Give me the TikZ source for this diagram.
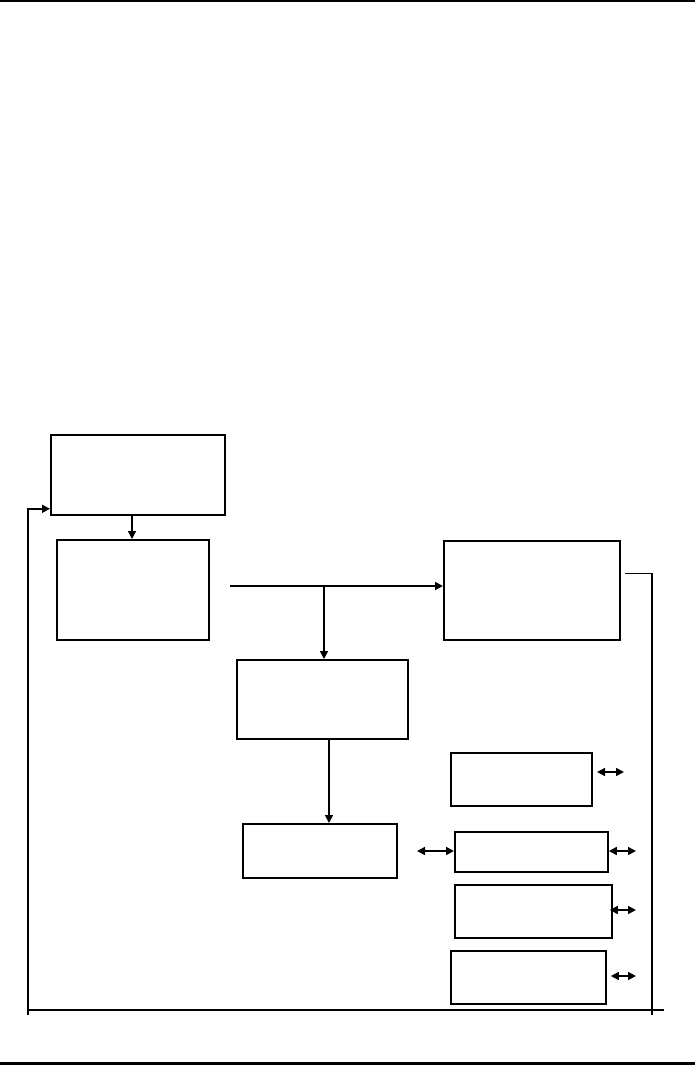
\documentclass[tikz,border=0pt]{standalone}
\usetikzlibrary{arrows.meta}
\begin{document}
\begin{tikzpicture}[x=1pt,y=-1pt,
  box/.style={draw,line width=1.8pt,rectangle,inner sep=0pt,anchor=north west},
  conn/.style={line width=1.6pt},
  arr/.style={conn,-{Triangle[length=8pt,width=8pt]}},
  darr/.style={conn,{Triangle[length=8pt,width=8pt]}-{Triangle[length=8pt,width=8pt]}}]
\useasboundingbox (0,0) rectangle (695,1066);
% page rules
\draw[line width=2pt] (0,1) -- (695,1);
\draw[line width=3pt] (0,1063) -- (695,1063);
% boxes
\node[box,minimum width=174pt,minimum height=80pt] (A) at (50,434) {};
\node[box,minimum width=152pt,minimum height=100pt] (B) at (56,539) {};
\node[box,minimum width=176pt,minimum height=99pt] (C) at (443,540) {};
\node[box,minimum width=171pt,minimum height=79pt] (D) at (236,659) {};
\node[box,minimum width=154pt,minimum height=54pt] (E) at (242,823) {};
\node[box,minimum width=141pt,minimum height=53pt] (F1) at (450,752) {};
\node[box,minimum width=153pt,minimum height=40pt] (F2) at (454,831) {};
\node[box,minimum width=157pt,minimum height=53pt] (F3) at (454,884) {};
\node[box,minimum width=155pt,minimum height=53pt] (F4) at (450,950) {};
% coordinates
\coordinate (src) at (230,586);
\coordinate (split) at (324,586);
\coordinate (fbL) at (28,1015);
\coordinate (fbR) at (652,1015);
\coordinate (botL) at (28,1010);
\coordinate (botR) at (664,1010);
\coordinate (a1) at (597,772);
\coordinate (a2) at (417,851);
\coordinate (a3) at (636,851);
\coordinate (a4) at (636,910);
\coordinate (a5) at (636,976);
% connectors
\draw[arr] (B.north -| 132,0) ++(0,-25) -- (B.north -| 132,0);
\draw[arr] (fbL) |- ([yshift=7pt]A.south west);
\draw[arr] (src) -- (src -| C.west);
\draw[arr] (split) -- (split |- D.north);
\draw[arr] (D.south -| 329,0) -- (E.north -| 329,0);
\draw[conn] ([xshift=4pt,yshift=17pt]C.east) -| (fbR);
\draw[line width=2.6pt] (botL) -- (botR);
\draw[darr] (a1) -- ++(27,0);
\draw[darr] (a2) -- (a2 -| F2.west);
\draw[darr] (F2.east |- a3) -- (a3);
\draw[darr] ([xshift=-3pt]F3.east |- a4) -- (a4);
\draw[darr] ([xshift=4pt]F4.east |- a5) -- (a5);
\end{tikzpicture}
\end{document}
